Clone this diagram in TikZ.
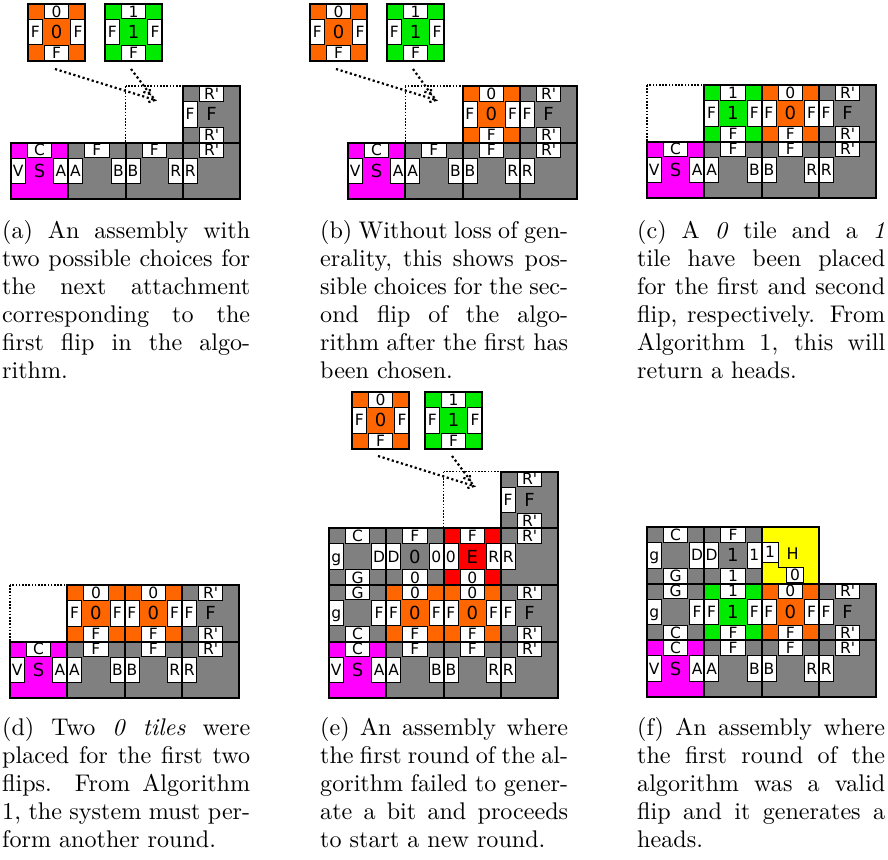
\documentclass[tikz,border=0pt]{standalone}
\usepackage{fontspec}
\usetikzlibrary{calc}
\newfontfamily\tilefont{DejaVu Sans}
\newfontfamily\capfont{lmroman10-regular}[Extension=.otf, ItalicFont=lmroman10-italic]
\definecolor{tOrange}{RGB}{255,102,0}
\definecolor{tGreen}{RGB}{0,235,0}
\definecolor{tGrey}{RGB}{128,128,128}
\definecolor{tMag}{RGB}{255,0,255}
\definecolor{tRed}{RGB}{255,0,0}
\definecolor{tYel}{RGB}{255,255,0}
\tikzset{
  lbl/.style={font=\tilefont\fontsize{15.5}{15.5}\selectfont, inner sep=0pt, anchor=base},
  clbl/.style={font=\tilefont\fontsize{18}{18}\selectfont, inner sep=0pt, anchor=base},
  gluebox/.style={fill=white, draw=black, line width=1pt},
  tileedge/.style={draw=black, line width=2pt},
  holder/.style={draw=black, line width=1.6pt, dash pattern=on 1.6pt off 1.6pt, fill=white},
  flow/.style={line width=2.2pt, dash pattern=on 2.2pt off 2.6pt},
  captext/.style={anchor=base west, inner sep=0pt, font=\capfont\fontsize{24.1}{28}\selectfont}
}
\newcommand\ifne[2]{\if\relax\detokenize{#1}\relax\else #2\fi}
% x, y, colour, top, left, centre, right, bottom
\newcommand\tile[8]{%
\begin{scope}[shift={(#1,#2)}]
\fill[#3] (0,0) rectangle (57.3,56.7);
\ifne{#4}{\draw[gluebox] (16.5,0) rectangle (40.8,15); \node[lbl] at (28.65,13.1) {#4};}
\ifne{#5}{\draw[gluebox] (0,15.5) rectangle (14.5,41); \node[lbl] at (7.25,33.9) {#5};}
\ifne{#6}{\node[clbl] at (28.65,34.9) {#6};}
\ifne{#7}{\draw[gluebox] (42.8,15.5) rectangle (57.3,41); \node[lbl] at (50.05,33.9) {#7};}
\ifne{#8}{\draw[gluebox] (16.5,41.7) rectangle (40.8,56.7); \node[lbl] at (28.65,54.8) {#8};}
\draw[tileedge] (0,0) rectangle (57.3,56.7);
\end{scope}}
\newcommand\holderbox[2]{\draw[holder] (#1,#2) rectangle ++(57.3,56.7);}
\newcommand\seed[2]{\tile{#1}{#2}{tMag}{C}{V}{S}{A}{}}
\newcommand\tAB[2]{\tile{#1}{#2}{tGrey}{F}{A}{}{B}{}}
\newcommand\tBR[2]{\tile{#1}{#2}{tGrey}{F}{B}{}{R}{}}
\newcommand\tRt[2]{\tile{#1}{#2}{tGrey}{R'}{R}{}{}{}}
\newcommand\tRF[2]{\tile{#1}{#2}{tGrey}{R'}{F}{F}{}{R'}}
\newcommand\tZero[2]{\tile{#1}{#2}{tOrange}{0}{F}{0}{F}{F}}
\newcommand\tOne[2]{\tile{#1}{#2}{tGreen}{1}{F}{1}{F}{F}}
\newcommand\tCg[2]{\tile{#1}{#2}{tGrey}{C}{g}{}{D}{G}}
\newcommand\tGg[2]{\tile{#1}{#2}{tGrey}{G}{g}{}{F}{C}}
\newcommand\bottomrow[2]{\seed{#1}{#2}\tAB{#1+57.3}{#2}\tBR{#1+114.6}{#2}\tRt{#1+171.9}{#2}}
% dotted connector with a dotted barb at its end
\newcommand\flowarrow[2]{\draw[flow] (#1) -- (#2);
  \draw[flow] ($(#2)!7pt!35:(#1)$) -- (#2) -- ($(#2)!7pt!-35:(#1)$);}
\newcommand\capln[1]{\makebox[248pt][s]{#1}}
\newcommand\caplast[1]{\makebox[248pt][l]{#1}}
\begin{document}
\begin{tikzpicture}[x=1pt,y=-1pt]
\useasboundingbox (0,0) rectangle (888,859);
% ---------- (a)
\holderbox{125.6}{86}
\bottomrow{11}{142.7}
\tRF{182.9}{86}
\tZero{28}{4}
\tOne{105}{4}
\coordinate (aS1) at (55,69);
\coordinate (aS2) at (131,69);
\coordinate (aT1) at (155,100);
\coordinate (aT2) at (150,94);
\flowarrow{aS1}{aT1}
\flowarrow{aS2}{aT2}
% ---------- (b)
\holderbox{405.3}{86}
\bottomrow{348}{142.7}
\tZero{462.6}{86}
\tRF{519.9}{86}
\tZero{310}{4}
\tOne{387}{4}
\coordinate (bS1) at (336,69);
\coordinate (bS2) at (413,69);
\coordinate (bT1) at (436,100);
\coordinate (bT2) at (431,94);
\flowarrow{bS1}{bT1}
\flowarrow{bS2}{bT2}
% ---------- (c)
\holderbox{647}{85}
\bottomrow{647}{141.7}
\tOne{704.3}{85}
\tZero{761.6}{85}
\tRF{818.9}{85}
% ---------- (d)
\holderbox{10}{585}
\bottomrow{10}{641.7}
\tZero{67.3}{585}
\tZero{124.6}{585}
\tRF{181.9}{585}
% ---------- (e)
\holderbox{443.6}{471.5}
\tRF{500.9}{471.5}
\tCg{329}{528.2}
\tile{386.3}{528.2}{tGrey}{F}{D}{0}{0}{0}
\tile{443.6}{528.2}{tRed}{F}{0}{E}{R}{0}
\tRt{500.9}{528.2}
\tGg{329}{584.9}
\tZero{386.3}{584.9}
\tZero{443.6}{584.9}
\tRF{500.9}{584.9}
\bottomrow{329}{641.6}
\tZero{352}{392}
\tOne{425}{392}
\coordinate (eS1) at (378,456);
\coordinate (eS2) at (452,456);
\coordinate (eT1) at (474,486);
\coordinate (eT2) at (470,480);
\flowarrow{eS1}{eT1}
\flowarrow{eS2}{eT2}
% ---------- (f)
\tCg{647}{527}
\tile{704.3}{527}{tGrey}{F}{D}{1}{1}{1}
\begin{scope}[shift={(761.6,527)}]
\fill[tYel] (0,0) rectangle (57.3,56.7);
\draw[gluebox] (0,15) rectangle (17,35);
\node[lbl] (one) at (8.5,30.6) {1};
\draw[gluebox] (25,40) rectangle (42,55.5);
\node[lbl] (zero) at (33.5,53.3) {0};
\draw[black, line width=1pt] (17,15) -- (17,40) -- (42,40) -- (42,56.7);
\node[lbl, font=\tilefont\fontsize{16}{16}\selectfont] (htext) at (31,32) {H};
\draw[tileedge] (0,0) rectangle (57.3,56.7);
\end{scope}
\tGg{647}{583.7}
\tOne{704.3}{583.7}
\tZero{761.6}{583.7}
\tRF{818.9}{583.7}
\bottomrow{647}{640.4}
% ---------- captions
\node[captext] (capa) at (2,238) {\parbox[t]{248pt}{\capln{(a) An assembly with}\\\capln{two possible choices for}\\\capln{the next attachment}\\\capln{corresponding to the}\\\capln{first flip in the algo-}\\\caplast{rithm.}}};
\node[captext] (capb) at (320,238) {\parbox[t]{248pt}{\capln{(b) Without loss of gen-}\\\capln{erality, this shows pos-}\\\capln{sible choices for the sec-}\\\capln{ond flip of the algo-}\\\capln{rithm after the first has}\\\caplast{been chosen.}}};
\node[captext] (capc) at (637,238) {\parbox[t]{248pt}{\capln{(c) A \textit{0} tile and a \textit{1}}\\\capln{tile have been placed}\\\capln{for the first and second}\\\capln{flip, respectively. From}\\\capln{Algorithm 1, this will}\\\caplast{return a heads.}}};
\node[captext] (capd) at (2,735) {\parbox[t]{248pt}{\capln{(d) Two \textit{0 tiles} were}\\\capln{placed for the first two}\\\capln{flips. From Algorithm}\\\capln{1, the system must per-}\\\caplast{form another round.}}};
\node[captext] (cape) at (320,735) {\parbox[t]{248pt}{\capln{(e) An assembly where}\\\capln{the first round of the al-}\\\capln{gorithm failed to gener-}\\\capln{ate a bit and proceeds}\\\caplast{to start a new round.}}};
\node[captext] (capf) at (637,735) {\parbox[t]{248pt}{\capln{(f) An assembly where}\\\capln{the first round of the}\\\capln{algorithm was a valid}\\\capln{flip and it generates a}\\\caplast{heads.}}};
\end{tikzpicture}
\end{document}
